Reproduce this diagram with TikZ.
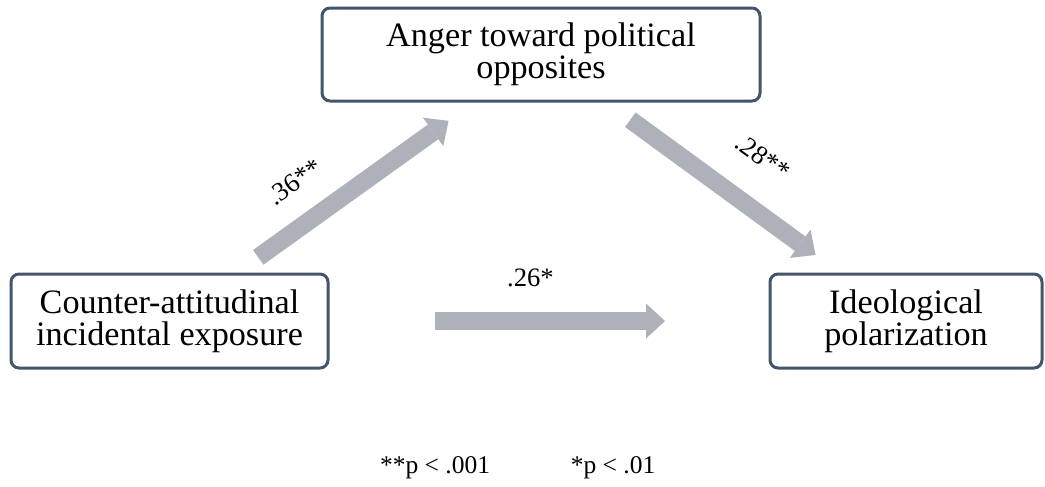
\documentclass[tikz,border=0pt]{standalone}
\usepackage{fontspec}
\setmainfont{Liberation Serif}
\usetikzlibrary{arrows.meta}

\definecolor{boxedge}{RGB}{68,84,106}
\definecolor{effectgray}{RGB}{173,177,186}

\begin{document}
\begin{tikzpicture}[>={Triangle[width=17.5pt,length=9.5pt,line width=0pt]},
    x=0.5pt,y=-0.5pt,
    var/.style={draw=boxedge,line width=1.5pt,rounded corners=4pt,fill=white,
      align=center,inner sep=0pt,font=\fontsize{17.1}{16}\selectfont},
    effect/.style={->,draw=effectgray,fill=effectgray,line width=9pt},
    coef/.style={inner sep=0pt,font=\fontsize{13.3}{15}\selectfont}]
  \useasboundingbox (0,0) rectangle (1045,487);

  \node[var,minimum width=219pt,minimum height=46.5pt] (anger) at (541,54.5)
    {Anger toward political\\opposites};
  \node[var,minimum width=158.5pt,minimum height=47pt] (exposure) at (169.5,321)
    {Counter-attitudinal\\incidental exposure};
  \node[var,minimum width=136pt,minimum height=47pt] (polar) at (906,321)
    {Ideological\\polarization};

  \draw[effect,shorten <=54.6pt,shorten >=56.9pt]
    (exposure.center) --
    node[coef,pos=.4,sloped,above=11pt] {.36**}
    (anger.center);
  \draw[effect,shorten <=55.3pt,shorten >=56pt]
    (anger.center) --
    node[coef,pos=.53,sloped,above=15pt] {.28**}
    (polar.center);
  \draw[effect,shorten <=132.8pt,shorten >=120.5pt]
    (exposure.center) --
    node[coef,pos=.49,above=12.5pt] {.26*}
    (polar.center);

  \node[coef,font=\fontsize{12.75}{15}\selectfont] (pstrong) at (435,468) {**p < .001};
  \node[coef,font=\fontsize{12.75}{15}\selectfont] (pweak) at (613,468) {*p < .01};
\end{tikzpicture}
\end{document}
